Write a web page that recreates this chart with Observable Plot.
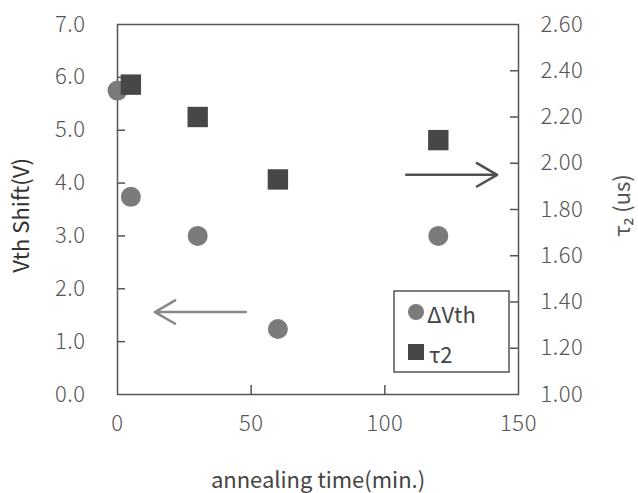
<!DOCTYPE html>
<html>
<head>
<meta charset="utf-8">
<script src="https://cdn.jsdelivr.net/npm/d3@7"></script>
<script src="https://cdn.jsdelivr.net/npm/@observablehq/plot@0.6"></script>
<style>
  body { margin: 0; background: #fff; }
  #wrap { position: relative; width: 638px; height: 493px; }
  #legend { position: absolute; left: 0; top: 0; }
  #wrap svg g[aria-label$="tick label"] text { font-weight: 300; letter-spacing: 0.5px; }
</style>
</head>
<body>
<div id="wrap"></div>
<script>
// ---- data ----
const annealTime = [0, 5, 30, 60, 120];          // min
const vthShift   = [5.75, 3.74, 3.0, 1.24, 3.0];   // V (left axis)
const tauTime    = [5, 30, 60, 120];               // min
const tau2       = [2.34, 2.20, 1.93, 2.10];       // us (right axis)

const xTicks      = [0, 50, 100, 150];
const leftTicks   = [0, 1, 2, 3, 4, 5, 6, 7];
const rightTicks  = [1.0, 1.2, 1.4, 1.6, 1.8, 2.0, 2.2, 2.4, 2.6];

// direction arrows (data units; left arrow on left axis, right arrow on right axis)
const leftArrow  = [{x1: 48, x2: 14, y: 1.56}];
const rightArrow = [{x1: 108, x2: 142, y: 1.95}];

// ---- layout ----
const W = 638, H = 493;
const mL = 117, mR = 120, mT = 24, mB = 99;
const plotW = W - mL - mR, plotH = H - mT - mB;

// right axis (1.0..2.6) mapped onto left axis (0..7)
const toLeft = v => (v - 1.0) * 7 / 1.6;
const fromLeft = v => v * 1.6 / 7 + 1.0;

const vthData = annealTime.map((t, i) => ({t, v: vthShift[i]}));
const tauData = tauTime.map((t, i) => ({t, v: tau2[i]}));

const chart = Plot.plot({
  width: W, height: H,
  marginLeft: mL, marginRight: mR, marginTop: mT, marginBottom: mB,
  style: {fontFamily: "'Noto Sans CJK JP', 'Noto Sans', sans-serif", color: "#555", background: "#fff"},
  x: {domain: [0, 150]},
  y: {domain: [0, 7]},
  marks: [
    // inward tick marks
    Plot.tickY(leftTicks.slice(1, -1), {y: d => d, insetRight: plotW - 8, stroke: "#555", strokeWidth: 1.5}),
    Plot.tickY(rightTicks.slice(1, -1).map(toLeft), {y: d => d, insetLeft: plotW - 8, stroke: "#555", strokeWidth: 1.5}),
    Plot.tickX(xTicks.slice(1, -1), {x: d => d, insetTop: plotH - 9, stroke: "#555", strokeWidth: 1.5}),
    // axes labels
    Plot.axisY(leftTicks, {anchor: "left", tickSize: 0, tickPadding: 32, fontSize: 22, tickFormat: d => d.toFixed(1), label: null}),
    Plot.axisY(rightTicks.map(toLeft), {anchor: "right", tickSize: 0, tickPadding: 22, fontSize: 22, tickFormat: d => fromLeft(d).toFixed(2), label: null}),
    Plot.axisX(xTicks, {anchor: "bottom", tickSize: 0, tickPadding: 21, fontSize: 22, label: null}),
    Plot.frame({stroke: "#555", strokeWidth: 1.5}),
    // axis titles
    Plot.text(["Vth Shift(V)"], {frameAnchor: "left", dx: -96, dy: 6, rotate: -90, fontSize: 22, fill: "#333", textAnchor: "middle", lineAnchor: "middle"}),
    Plot.text(["τ₂ (us)"], {frameAnchor: "right", dx: 104, dy: -4, rotate: -90, fontSize: 22, fill: "#555", textAnchor: "middle", lineAnchor: "middle"}),
    Plot.text(["annealing time(min.)"], {frameAnchor: "bottom", dy: 86, fontSize: 22, fill: "#444", textAnchor: "middle", lineAnchor: "middle"}),
    // arrows
    Plot.arrow(leftArrow, {x1: "x1", x2: "x2", y1: "y", y2: "y", stroke: "#888", strokeWidth: 2.5, headLength: 14, headAngle: 60}),
    Plot.arrow(rightArrow, {x1: "x1", x2: "x2", y1: d => toLeft(d.y), y2: d => toLeft(d.y), stroke: "#505050", strokeWidth: 2.5, headLength: 14, headAngle: 60}),
    // data
    Plot.dot(vthData, {x: "t", y: "v", r: 10, fill: "#7b7b7b", symbol: "circle"}),
    Plot.dot(tauData, {x: "t", y: d => toLeft(d.v), r: 11.5, fill: "#474747", symbol: "square"})
  ]
});

const wrap = document.getElementById("wrap");
wrap.appendChild(chart);

// legend overlay
const legend = document.createElementNS("http://www.w3.org/2000/svg", "svg");
legend.setAttribute("id", "legend");
legend.setAttribute("width", W);
legend.setAttribute("height", H);
legend.innerHTML = `
  <rect x="394" y="291" width="115" height="81" fill="#fff" stroke="#555" stroke-width="1.5"/>
  <circle cx="416" cy="312" r="8" fill="#7b7b7b"/>
  <text x="427" y="313" dominant-baseline="central" font-family="'Noto Sans CJK JP', sans-serif" font-size="22" fill="#444">ΔVth</text>
  <rect x="408" y="344" width="16" height="16" fill="#474747"/>
  <text x="429" y="353" dominant-baseline="central" font-family="'Noto Sans CJK JP', sans-serif" font-size="22" fill="#444">τ2</text>
`;
wrap.appendChild(legend);
</script>
</body>
</html>
